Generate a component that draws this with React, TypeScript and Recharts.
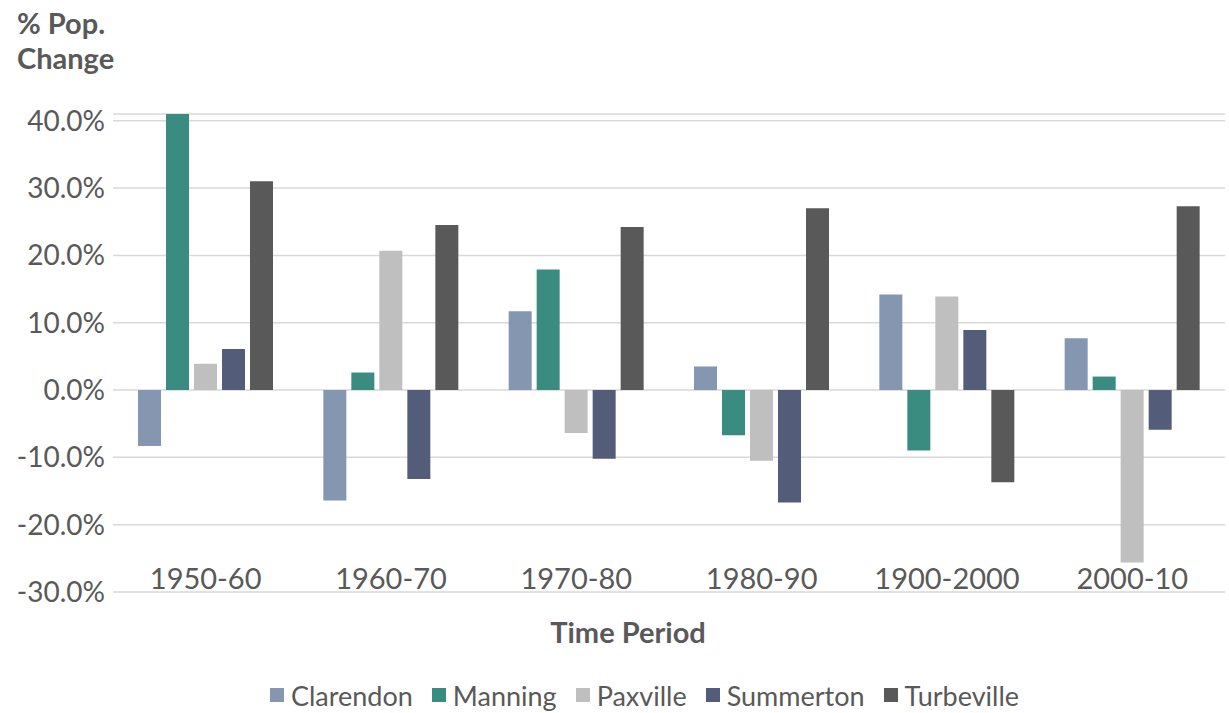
import { BarChart, Bar, XAxis, YAxis, CartesianGrid } from 'recharts';

const periods = ['1950-60', '1960-70', '1970-80', '1980-90', '1900-2000', '2000-10'];
const clarendon = [-8.3, -16.4, 11.7, 3.5, 14.2, 7.7];
const manning = [41.0, 2.6, 17.9, -6.7, -9.0, 2.0];
const paxville = [3.9, 20.7, -6.4, -10.5, 13.9, -25.6];
const summerton = [6.1, -13.2, -10.2, -16.7, 8.9, -5.9];
const turbeville = [31.0, 24.5, 24.2, 27.0, -13.7, 27.3];
const yTicks = [-30, -20, -10, 0, 10, 20, 30, 40];

const series = [
  { key: 'Clarendon', color: '#8496b0' },
  { key: 'Manning', color: '#3a8b80' },
  { key: 'Paxville', color: '#bfbfbf' },
  { key: 'Summerton', color: '#535d7a' },
  { key: 'Turbeville', color: '#595959' },
];

const data = periods.map((p, i) => ({
  period: p,
  Clarendon: clarendon[i],
  Manning: manning[i],
  Paxville: paxville[i],
  Summerton: summerton[i],
  Turbeville: turbeville[i],
}));

const font = 'Lato, "Open Sans", sans-serif';
const textColor = '#595959';

// category labels sit inside the plot, just above the bottom gridline
const PeriodTick = (props: any) => {
  const { x, payload } = props;
  return (
    <text x={x} y={577} textAnchor="middle" dominantBaseline="central" fill={textColor} fontSize={29} fontFamily={font}>
      {payload.value}
    </text>
  );
};

export default function App() {
  return (
    <div style={{ position: 'absolute', left: 0, top: 0, width: 1229, height: 713, background: '#fff', fontFamily: font }}>
      <div style={{ position: 'absolute', left: 17, top: 5, color: textColor, fontSize: 29, fontWeight: 700, lineHeight: '35px' }}>
        % Pop.<br />Change
      </div>
      <div style={{ position: 'absolute', left: 0, width: 1256, top: 614, textAlign: 'center', color: textColor, fontSize: 29, fontWeight: 700 }}>
        Time Period
      </div>
      <BarChart
        width={1229}
        height={713}
        data={data}
        margin={{ top: 114, right: 4, bottom: 120, left: 0 }}
        barSize={23}
        barGap={5}
      >
        <CartesianGrid vertical={false} stroke="#d9d9d9" strokeWidth={1.5} />
        <XAxis dataKey="period" height={1} axisLine={false} tickLine={false} tick={<PeriodTick />} interval={0} />
        <YAxis
          width={113}
          domain={[-30, 40]}
          ticks={yTicks}
          axisLine={false}
          tickLine={false}
          tickFormatter={(v: number) => `${v.toFixed(1)}%`}
          tick={{ fill: textColor, fontSize: 28, fontFamily: font }}
          interval={0}
        />
        {series.map(s => (
          <Bar key={s.key} dataKey={s.key} fill={s.color} isAnimationActive={false} />
        ))}
      </BarChart>
      <div style={{ position: 'absolute', left: 0, width: 1289, top: 676, height: 38, display: 'flex', justifyContent: 'center', alignItems: 'center', gap: 19 }}>
        {series.map(s => (
          <div key={s.key} style={{ display: 'flex', alignItems: 'center', gap: 7 }}>
            <span style={{ display: 'inline-block', width: 14, height: 14, background: s.color }} />
            <span style={{ color: textColor, fontSize: 27 }}>{s.key}</span>
          </div>
        ))}
      </div>
    </div>
  );
}
